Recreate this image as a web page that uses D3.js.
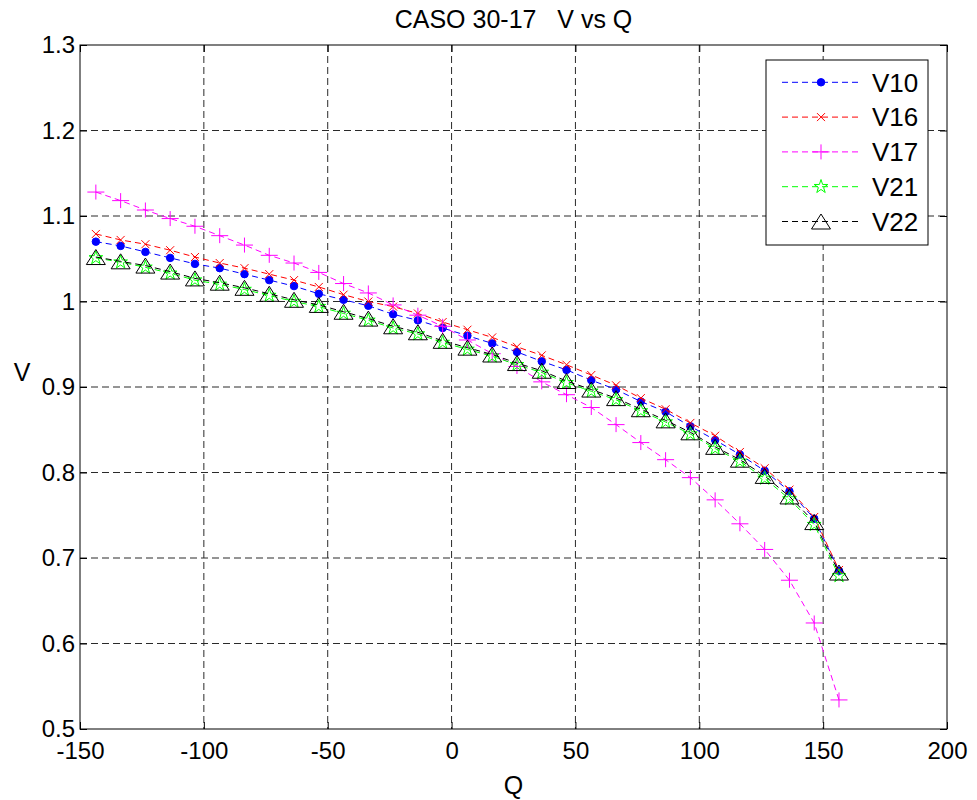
<!DOCTYPE html>
<html>
<head>
<meta charset="utf-8">
<script src="https://cdn.jsdelivr.net/npm/d3@7"></script>
<style>
	body { margin: 0; background: #fff; }
	text { font-family: "Liberation Sans", Arial, sans-serif; fill: #000; }
</style>
</head>
<body>
<svg id="chart" width="977" height="800"></svg>
<script>
'use strict';

// Q values (same for every series)
var qValues = [-143.6, -133.6, -123.6, -113.6, -103.6, -93.6, -83.6, -73.6, -63.6, -53.6,
	-43.6, -33.6, -23.6, -13.6, -3.6, 6.4, 16.4, 26.4, 36.4, 46.4,
	56.4, 66.4, 76.4, 86.4, 96.4, 106.4, 116.4, 126.4, 136.4, 146.4, 156.4];

var v10 = [1.070, 1.065, 1.058, 1.051, 1.044, 1.039, 1.032, 1.025, 1.018, 1.009,
	1.002, 0.995, 0.985, 0.978, 0.969, 0.960, 0.951, 0.941, 0.930, 0.920,
	0.908, 0.897, 0.883, 0.871, 0.854, 0.838, 0.821, 0.802, 0.778, 0.746, 0.685];

var v16 = [1.079, 1.072, 1.067, 1.060, 1.052, 1.045, 1.039, 1.032, 1.025, 1.017,
	1.008, 1.000, 0.994, 0.986, 0.976, 0.967, 0.958, 0.947, 0.937, 0.926,
	0.914, 0.902, 0.887, 0.874, 0.858, 0.843, 0.824, 0.805, 0.780, 0.748, 0.686];

var v17 = [1.128, 1.118, 1.107, 1.097, 1.088, 1.077, 1.066, 1.054, 1.045, 1.034,
	1.021, 1.010, 0.996, 0.984, 0.971, 0.955, 0.939, 0.924, 0.906, 0.891,
	0.876, 0.856, 0.835, 0.815, 0.794, 0.768, 0.740, 0.710, 0.674, 0.624, 0.534];

var v21 = [1.051, 1.046, 1.040, 1.033, 1.025, 1.020, 1.014, 1.007, 1.000, 0.994,
	0.986, 0.978, 0.969, 0.962, 0.952, 0.944, 0.936, 0.926, 0.917, 0.905,
	0.895, 0.885, 0.872, 0.859, 0.845, 0.828, 0.813, 0.793, 0.769, 0.739, 0.679];

var v22 = [1.052, 1.047, 1.042, 1.035, 1.027, 1.022, 1.016, 1.009, 1.002, 0.996,
	0.988, 0.980, 0.971, 0.964, 0.954, 0.946, 0.938, 0.928, 0.919, 0.907,
	0.897, 0.887, 0.874, 0.861, 0.847, 0.830, 0.815, 0.796, 0.772, 0.742, 0.683];

var seriesNames = ["V10", "V16", "V17", "V21", "V22"];
var xTicks = [-150, -100, -50, 0, 50, 100, 150, 200];
var yTicks = [0.5, 0.6, 0.7, 0.8, 0.9, 1, 1.1, 1.2, 1.3];

var PLOT_LEFT = 80;
var PLOT_RIGHT = 947;
var PLOT_TOP = 45;
var PLOT_BOTTOM = 729;
var TICK_LEN = 7;

var svg = d3.select("#chart");

var x = d3.scaleLinear()
	.domain([-150, 200])
	.range([PLOT_LEFT, PLOT_RIGHT]);

var y = d3.scaleLinear()
	.domain([0.5, 1.3])
	.range([PLOT_BOTTOM, PLOT_TOP]);

// marker shapes, drawn around 0,0
function markerPath(kind) {
	switch (kind) {
		case "dot":
			return d3.symbol().type(d3.symbolCircle).size(44)();
		case "x":
			return "M-4,-4L4,4M-4,4L4,-4";
		case "plus":
			return "M-8.5,0H8.5M0,-7.5V7.5";
		case "star":
			return d3.symbol().type(d3.symbolStar).size(58)();
		case "tri":
			return "M0,-7.5L9.5,7.5L-9.5,7.5Z";
		default:
			return "";
	}
}

// plain hyphen minus like the original, not the unicode minus
function plainLabel(d) {
	return String(Math.round(d * 10) / 10);
}

var series = [
	{ name: seriesNames[0], values: v10, color: "#0000ff", marker: "dot", fill: "#0000ff" },
	{ name: seriesNames[1], values: v16, color: "#ff0000", marker: "x", fill: "none" },
	{ name: seriesNames[2], values: v17, color: "#ff00ff", marker: "plus", fill: "none" },
	{ name: seriesNames[3], values: v21, color: "#00ff00", marker: "star", fill: "none" },
	{ name: seriesNames[4], values: v22, color: "#000000", marker: "tri", fill: "none" }
];

// grid
var grid = svg.append("g").attr("class", "grid");

grid.selectAll(".vgrid")
	.data(xTicks.slice(1, -1))
	.enter()
	.append("line")
	.attr("x1", function (d) { return x(d); })
	.attr("x2", function (d) { return x(d); })
	.attr("y1", PLOT_TOP)
	.attr("y2", PLOT_BOTTOM)
	.style("stroke", "#2a2a2a")
	.style("stroke-width", 1)
	.style("stroke-dasharray", "7,4");

grid.selectAll(".hgrid")
	.data(yTicks.slice(1, -1))
	.enter()
	.append("line")
	.attr("x1", PLOT_LEFT)
	.attr("x2", PLOT_RIGHT)
	.attr("y1", function (d) { return y(d); })
	.attr("y2", function (d) { return y(d); })
	.style("stroke", "#2a2a2a")
	.style("stroke-width", 1)
	.style("stroke-dasharray", "7,4");

// axes with inward ticks on all four sides
svg.append("g")
	.attr("transform", "translate(0," + PLOT_BOTTOM + ")")
	.call(d3.axisBottom(x).tickValues(xTicks).tickSizeInner(-TICK_LEN).tickSizeOuter(0).tickPadding(13)
		.tickFormat(plainLabel));

svg.append("g")
	.attr("transform", "translate(0," + PLOT_TOP + ")")
	.call(d3.axisTop(x).tickValues(xTicks).tickSizeInner(-TICK_LEN).tickSizeOuter(0).tickFormat(""));

svg.append("g")
	.attr("transform", "translate(" + PLOT_LEFT + ",0)")
	.call(d3.axisLeft(y).tickValues(yTicks).tickSizeInner(-TICK_LEN).tickSizeOuter(0).tickPadding(5)
		.tickFormat(plainLabel));

svg.append("g")
	.attr("transform", "translate(" + PLOT_RIGHT + ",0)")
	.call(d3.axisRight(y).tickValues(yTicks).tickSizeInner(-TICK_LEN).tickSizeOuter(0).tickFormat(""));

svg.selectAll(".domain").remove();
svg.selectAll(".tick line").style("stroke", "#000");
svg.selectAll(".tick text")
	.style("font-family", "\"Liberation Sans\", Arial, sans-serif")
	.style("font-size", "24px")
	.style("fill", "#000");

// box
svg.append("rect")
	.attr("x", PLOT_LEFT)
	.attr("y", PLOT_TOP)
	.attr("width", PLOT_RIGHT - PLOT_LEFT)
	.attr("height", PLOT_BOTTOM - PLOT_TOP)
	.style("fill", "none")
	.style("stroke", "#000")
	.style("stroke-width", 1);

// series
var line = d3.line()
	.x(function (d, i) { return x(qValues[i]); })
	.y(function (d) { return y(d); });

series.forEach(function (s) {
	var g = svg.append("g").attr("class", "series");

	g.append("path")
		.datum(s.values)
		.attr("d", line)
		.style("fill", "none")
		.style("stroke", s.color)
		.style("stroke-width", 1)
		.style("stroke-dasharray", "6,4");

	g.selectAll(".marker")
		.data(s.values)
		.enter()
		.append("path")
		.attr("transform", function (d, i) {
			return "translate(" + x(qValues[i]) + "," + y(d) + ")";
		})
		.attr("d", markerPath(s.marker))
		.style("fill", s.fill)
		.style("stroke", s.color)
		.style("stroke-width", 1);
});

// title and labels
svg.append("text")
	.attr("x", (PLOT_LEFT + PLOT_RIGHT) / 2)
	.attr("y", 28)
	.attr("text-anchor", "middle")
	.style("font-size", "25px")
	.style("white-space", "pre")
	.text("CASO 30-17   V vs Q");

svg.append("text")
	.attr("x", (PLOT_LEFT + PLOT_RIGHT) / 2)
	.attr("y", 794)
	.attr("text-anchor", "middle")
	.style("font-size", "25px")
	.text("Q");

svg.append("text")
	.attr("x", 22)
	.attr("y", 381)
	.attr("text-anchor", "middle")
	.style("font-size", "25px")
	.text("V");

// legend
var LEG_X = 766;
var LEG_Y = 60;
var LEG_W = 162;
var LEG_H = 185;
var LEG_ROW = 34.8;

var legend = svg.append("g").attr("class", "legend");

legend.append("rect")
	.attr("x", LEG_X)
	.attr("y", LEG_Y)
	.attr("width", LEG_W)
	.attr("height", LEG_H)
	.style("fill", "#fff")
	.style("stroke", "#000")
	.style("stroke-width", 1);

var rows = legend.selectAll(".legend-row")
	.data(series)
	.enter()
	.append("g")
	.attr("transform", function (d, i) {
		return "translate(" + LEG_X + "," + (LEG_Y + 22.3 + i * LEG_ROW) + ")";
	});

rows.append("line")
	.attr("x1", 16)
	.attr("x2", 96)
	.attr("y1", 0)
	.attr("y2", 0)
	.style("stroke", function (d) { return d.color; })
	.style("stroke-width", 1)
	.style("stroke-dasharray", "6,4");

rows.append("path")
	.attr("transform", "translate(55,0)")
	.attr("d", function (d) { return markerPath(d.marker); })
	.style("fill", function (d) { return d.fill; })
	.style("stroke", function (d) { return d.color; })
	.style("stroke-width", 1);

rows.append("text")
	.attr("x", 106)
	.attr("y", 0)
	.attr("dy", "0.36em")
	.style("font-size", "26px")
	.text(function (d) { return d.name; });
</script>
</body>
</html>
